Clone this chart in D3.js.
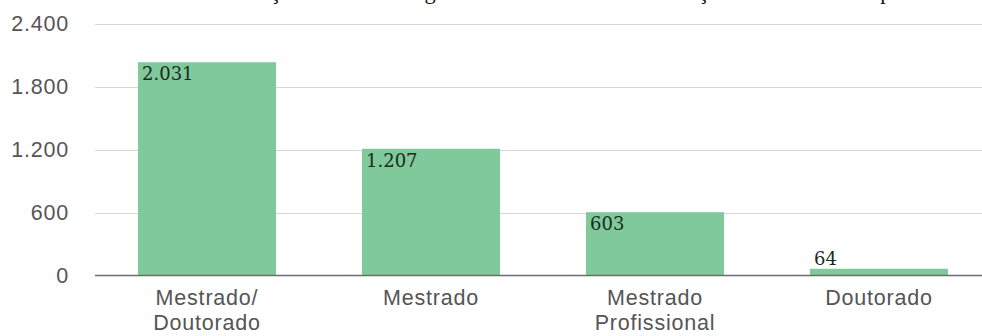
<!DOCTYPE html>
<html>
<head>
<meta charset="utf-8">
<script src="https://cdn.jsdelivr.net/npm/d3@7"></script>
<style>
html,body{margin:0;padding:0;background:#fff;}
svg{display:block;}
</style>
</head>
<body>
<svg id="chart" width="982" height="336"></svg>
<script>
const titleText = "Distribuição dos cursos segundo a Modalidade de Formação em cada Estado por nível";
const categories = ["Mestrado/Doutorado", "Mestrado", "Mestrado Profissional", "Doutorado"];
const categoryLines = [["Mestrado/", "Doutorado"], ["Mestrado"], ["Mestrado", "Profissional"], ["Doutorado"]];
const values = [2031, 1207, 603, 64];
const yTicks = [0, 600, 1200, 1800, 2400];
const yTickLabels = ["0", "600", "1.200", "1.800", "2.400"];

const svg = d3.select("#chart");
const ptBR = d3.formatLocale({decimal: ",", thousands: ".", grouping: [3], currency: ["R$", ""]});
const fmt = ptBR.format(",d");

const x = d3.scaleBand().domain(categories).range([95, 991]).paddingInner(0.384).paddingOuter(0.192);
const y = d3.scaleLinear().domain([0, 2400]).range([275.5, 23.5]);

const sans = "'Liberation Sans', Arial, sans-serif";

// title (cut off at top)
svg.append("text")
  .attr("x", 191).attr("y", -1)
  .attr("font-family", "'Liberation Serif', 'Times New Roman', serif")
  .attr("font-size", 22.3).attr("fill", "#111")
  .text(titleText);

// gridlines
svg.append("g").selectAll("line").data(yTicks.filter(d => d !== 0)).join("line")
  .attr("x1", 95).attr("x2", 982)
  .attr("y1", d => Math.round(y(d)) + 0.5).attr("y2", d => Math.round(y(d)) + 0.5)
  .attr("stroke", "#d6d6d6").attr("stroke-width", 1);

// y tick labels
svg.append("g").selectAll("text").data(yTicks).join("text")
  .attr("x", 69).attr("y", d => y(d) + 7.5)
  .attr("text-anchor", "end")
  .attr("font-family", sans).attr("letter-spacing", 0.8)
  .attr("font-size", 21.5).attr("fill", "#555")
  .text((d, i) => yTickLabels[i]);

// bars
svg.append("g").selectAll("rect").data(values).join("rect")
  .attr("x", (d, i) => x(categories[i]))
  .attr("width", x.bandwidth())
  .attr("y", d => y(d))
  .attr("height", d => y(0) - y(d))
  .attr("fill", "#7fc99a");

// baseline
svg.append("line")
  .attr("x1", 95).attr("x2", 982)
  .attr("y1", y(0)).attr("y2", y(0))
  .attr("stroke", "#6e6e6e").attr("stroke-width", 1.6);

// value labels
svg.append("g").selectAll("text").data(values).join("text")
  .attr("x", (d, i) => x(categories[i]) + 4)
  .attr("y", d => (y(0) - y(d) > 22) ? y(d) + 18 : y(d) - 4)
  .attr("font-family", "'DejaVu Serif', 'Liberation Serif', serif")
  .attr("font-size", 18).attr("fill", "#1b2a20")
  .text(d => fmt(d));

// category labels
const cat = svg.append("g").selectAll("text").data(categories).join("text")
  .attr("x", d => x(d) + x.bandwidth() / 2)
  .attr("y", 305)
  .attr("text-anchor", "middle")
  .attr("font-family", sans).attr("letter-spacing", 0.8)
  .attr("font-size", 21.5).attr("fill", "#555");
cat.selectAll("tspan").data((d, i) => categoryLines[i]).join("tspan")
  .attr("x", function() { return d3.select(this.parentNode).attr("x"); })
  .attr("dy", (d, j) => j === 0 ? 0 : 25)
  .text(d => d);
</script>
</body>
</html>
